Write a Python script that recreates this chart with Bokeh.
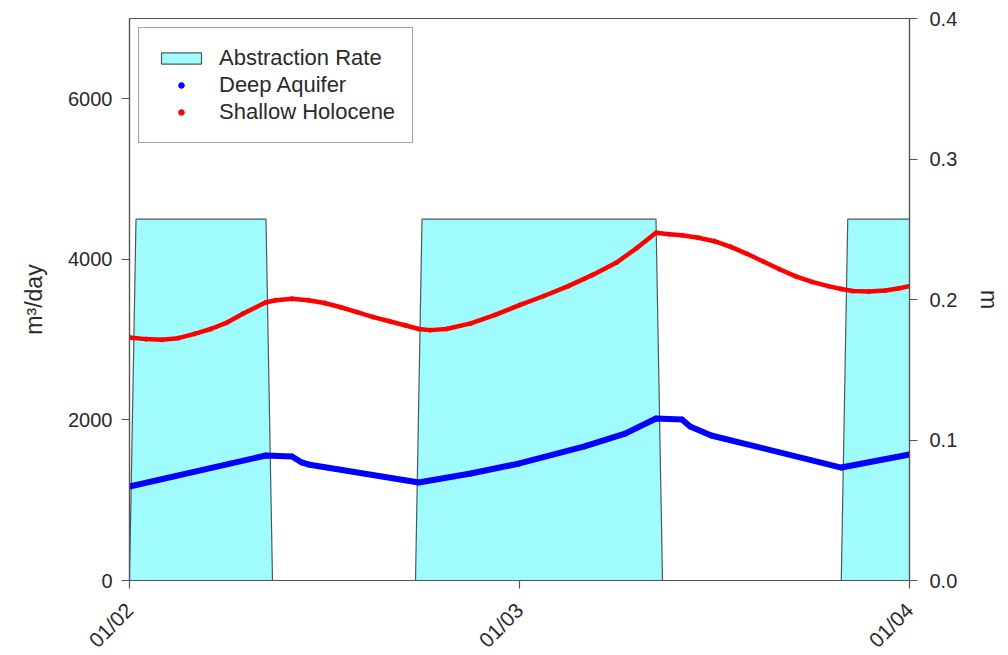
import math
from bokeh.plotting import figure
from bokeh.models import (Range1d, LinearAxis, FixedTicker, Legend, LegendItem,
                          NumeralTickFormatter)
from bokeh.embed import file_html
from bokeh.resources import INLINE

# ---- data ----
# abstraction rate (m3/day) vs hours since 01/02 00:00
abs_hours = [0, 0.4, 8.4, 8.8, 17.6, 18.0, 32.4, 32.8, 43.8, 44.2, 48]
abs_rate = [0, 4500, 4500, 0, 0, 4500, 4500, 0, 0, 4500, 4500]

# deep aquifer drawdown (m)
deep_hours = [0, 8.4, 10.0, 10.6, 11.0, 17.8, 21.0, 24.0, 28.0, 30.5, 32.4, 34.0, 34.5,
              35.8, 43.8, 48.0]
deep_m = [0.0669, 0.0890, 0.0883, 0.0840, 0.0826, 0.0698, 0.0762, 0.0833, 0.0954, 0.1045,
          0.1153, 0.1146, 0.1096, 0.1032, 0.0804, 0.0897]

# shallow holocene drawdown (m)
shal_hours = [0, 1, 2, 3, 4, 5, 6, 7, 8.4, 9, 10, 11, 12, 13, 14, 15, 16, 17, 17.8,
              18.5, 19.5, 21, 22.5, 24, 25.5, 27, 28.5, 30, 31.2, 32.4, 33.2, 34, 35,
              36, 37, 38, 39, 40, 41, 42, 43, 43.8, 44.5, 45.5, 46.5, 47.3, 48]
shal_m = [0.1730, 0.1718, 0.1713, 0.1725, 0.1755, 0.1790, 0.1836, 0.1900, 0.1980, 0.1995,
          0.2005, 0.1995, 0.1975, 0.1945, 0.1910, 0.1875, 0.1845, 0.1815, 0.1790,
          0.1782, 0.1790, 0.1830, 0.1890, 0.1960, 0.2025, 0.2095, 0.2175, 0.2265, 0.2365,
          0.2475, 0.2465, 0.2457, 0.2440, 0.2415, 0.2375, 0.2325, 0.2270, 0.2215, 0.2165,
          0.2125, 0.2095, 0.2075, 0.2060, 0.2057, 0.2064, 0.2078, 0.2095]

x_tick_hours = [0, 24, 48]
x_tick_labels = ["01/02", "01/03", "01/04"]
left_ticks = [0, 2000, 4000, 6000]
right_ticks = [0.0, 0.1, 0.2, 0.3, 0.4]

FONT = "Liberation Sans"
TXT = "#2a2a2a"
LINE = "#555555"

p = figure(frame_width=780, frame_height=562, output_backend="svg", toolbar_location=None,
           x_range=Range1d(0, 48), y_range=Range1d(0, 7000),
           min_border_left=129, min_border_right=91, min_border_top=18, min_border_bottom=60)
p.extra_y_ranges = {"m": Range1d(0, 0.4)}
p.xgrid.visible = False
p.ygrid.visible = False
p.outline_line_color = LINE
p.outline_line_width = 1.2
p.background_fill_color = "white"
p.border_fill_color = "white"

# abstraction patch
patch = p.patch(abs_hours + [abs_hours[-1]], abs_rate + [0],
                fill_color="#a0fcfc", line_color="#4a5a5a", line_width=1.2)

deep_line = p.line(deep_hours, deep_m, y_range_name="m", line_color="#0000ff", line_width=6,
                   line_join="round", line_cap="round")
deep_pts = p.scatter(deep_hours, deep_m, y_range_name="m", size=5, color="#0000ff")
shal_line = p.line(shal_hours, shal_m, y_range_name="m", line_color="#ff0000", line_width=4.5,
                   line_join="round", line_cap="round")
shal_pts = p.scatter(shal_hours, shal_m, y_range_name="m", size=4, color="#ff0000")

# axes
right = LinearAxis(y_range_name="m", axis_label="m",
                   ticker=FixedTicker(ticks=right_ticks),
                   formatter=NumeralTickFormatter(format="0.0"))
p.add_layout(right, "right")

p.yaxis[0].ticker = FixedTicker(ticks=left_ticks)
p.yaxis[0].axis_label = "m³/day"
p.xaxis.ticker = FixedTicker(ticks=x_tick_hours)
p.xaxis.major_label_overrides = {h: l for h, l in zip(x_tick_hours, x_tick_labels)}
p.xaxis.major_label_orientation = math.pi / 4

for ax in [p.xaxis[0], p.yaxis[0], right]:
    ax.axis_line_color = LINE
    ax.axis_line_width = 1.2
    ax.major_tick_line_color = LINE
    ax.major_tick_line_width = 1.2
    ax.major_tick_in = 0
    ax.major_tick_out = 8
    ax.minor_tick_line_color = None
    ax.major_label_text_font = FONT
    ax.major_label_text_font_size = "20px"
    ax.major_label_text_color = TXT
    ax.axis_label_text_font = FONT
    ax.axis_label_text_font_size = "23px"
    ax.axis_label_text_font_style = "normal"
    ax.axis_label_text_color = TXT

p.xaxis[0].major_label_text_font_size = "21px"
p.yaxis[0].major_label_standoff = 9
p.yaxis[0].axis_label_standoff = 18
right.major_label_standoff = 12
right.axis_label_standoff = 16
p.xaxis[0].major_label_standoff = 18

legend = Legend(items=[
    LegendItem(label="Abstraction Rate", renderers=[patch]),
    LegendItem(label="Deep Aquifer", renderers=[deep_pts]),
    LegendItem(label="Shallow Holocene", renderers=[shal_pts]),
], location="top_left")
legend.margin = 9
legend.padding = 17
legend.spacing = 1
legend.glyph_width = 50
legend.glyph_height = 14
legend.label_height = 20
legend.label_standoff = 13
legend.label_text_font = FONT
legend.label_text_font_size = "22px"
legend.label_text_color = TXT
legend.border_line_color = "#444444"
legend.border_line_width = 1.5
legend.background_fill_color = "white"
legend.background_fill_alpha = 1.0
p.add_layout(legend, "center")

open("out.html", "w").write(file_html(p, INLINE))
